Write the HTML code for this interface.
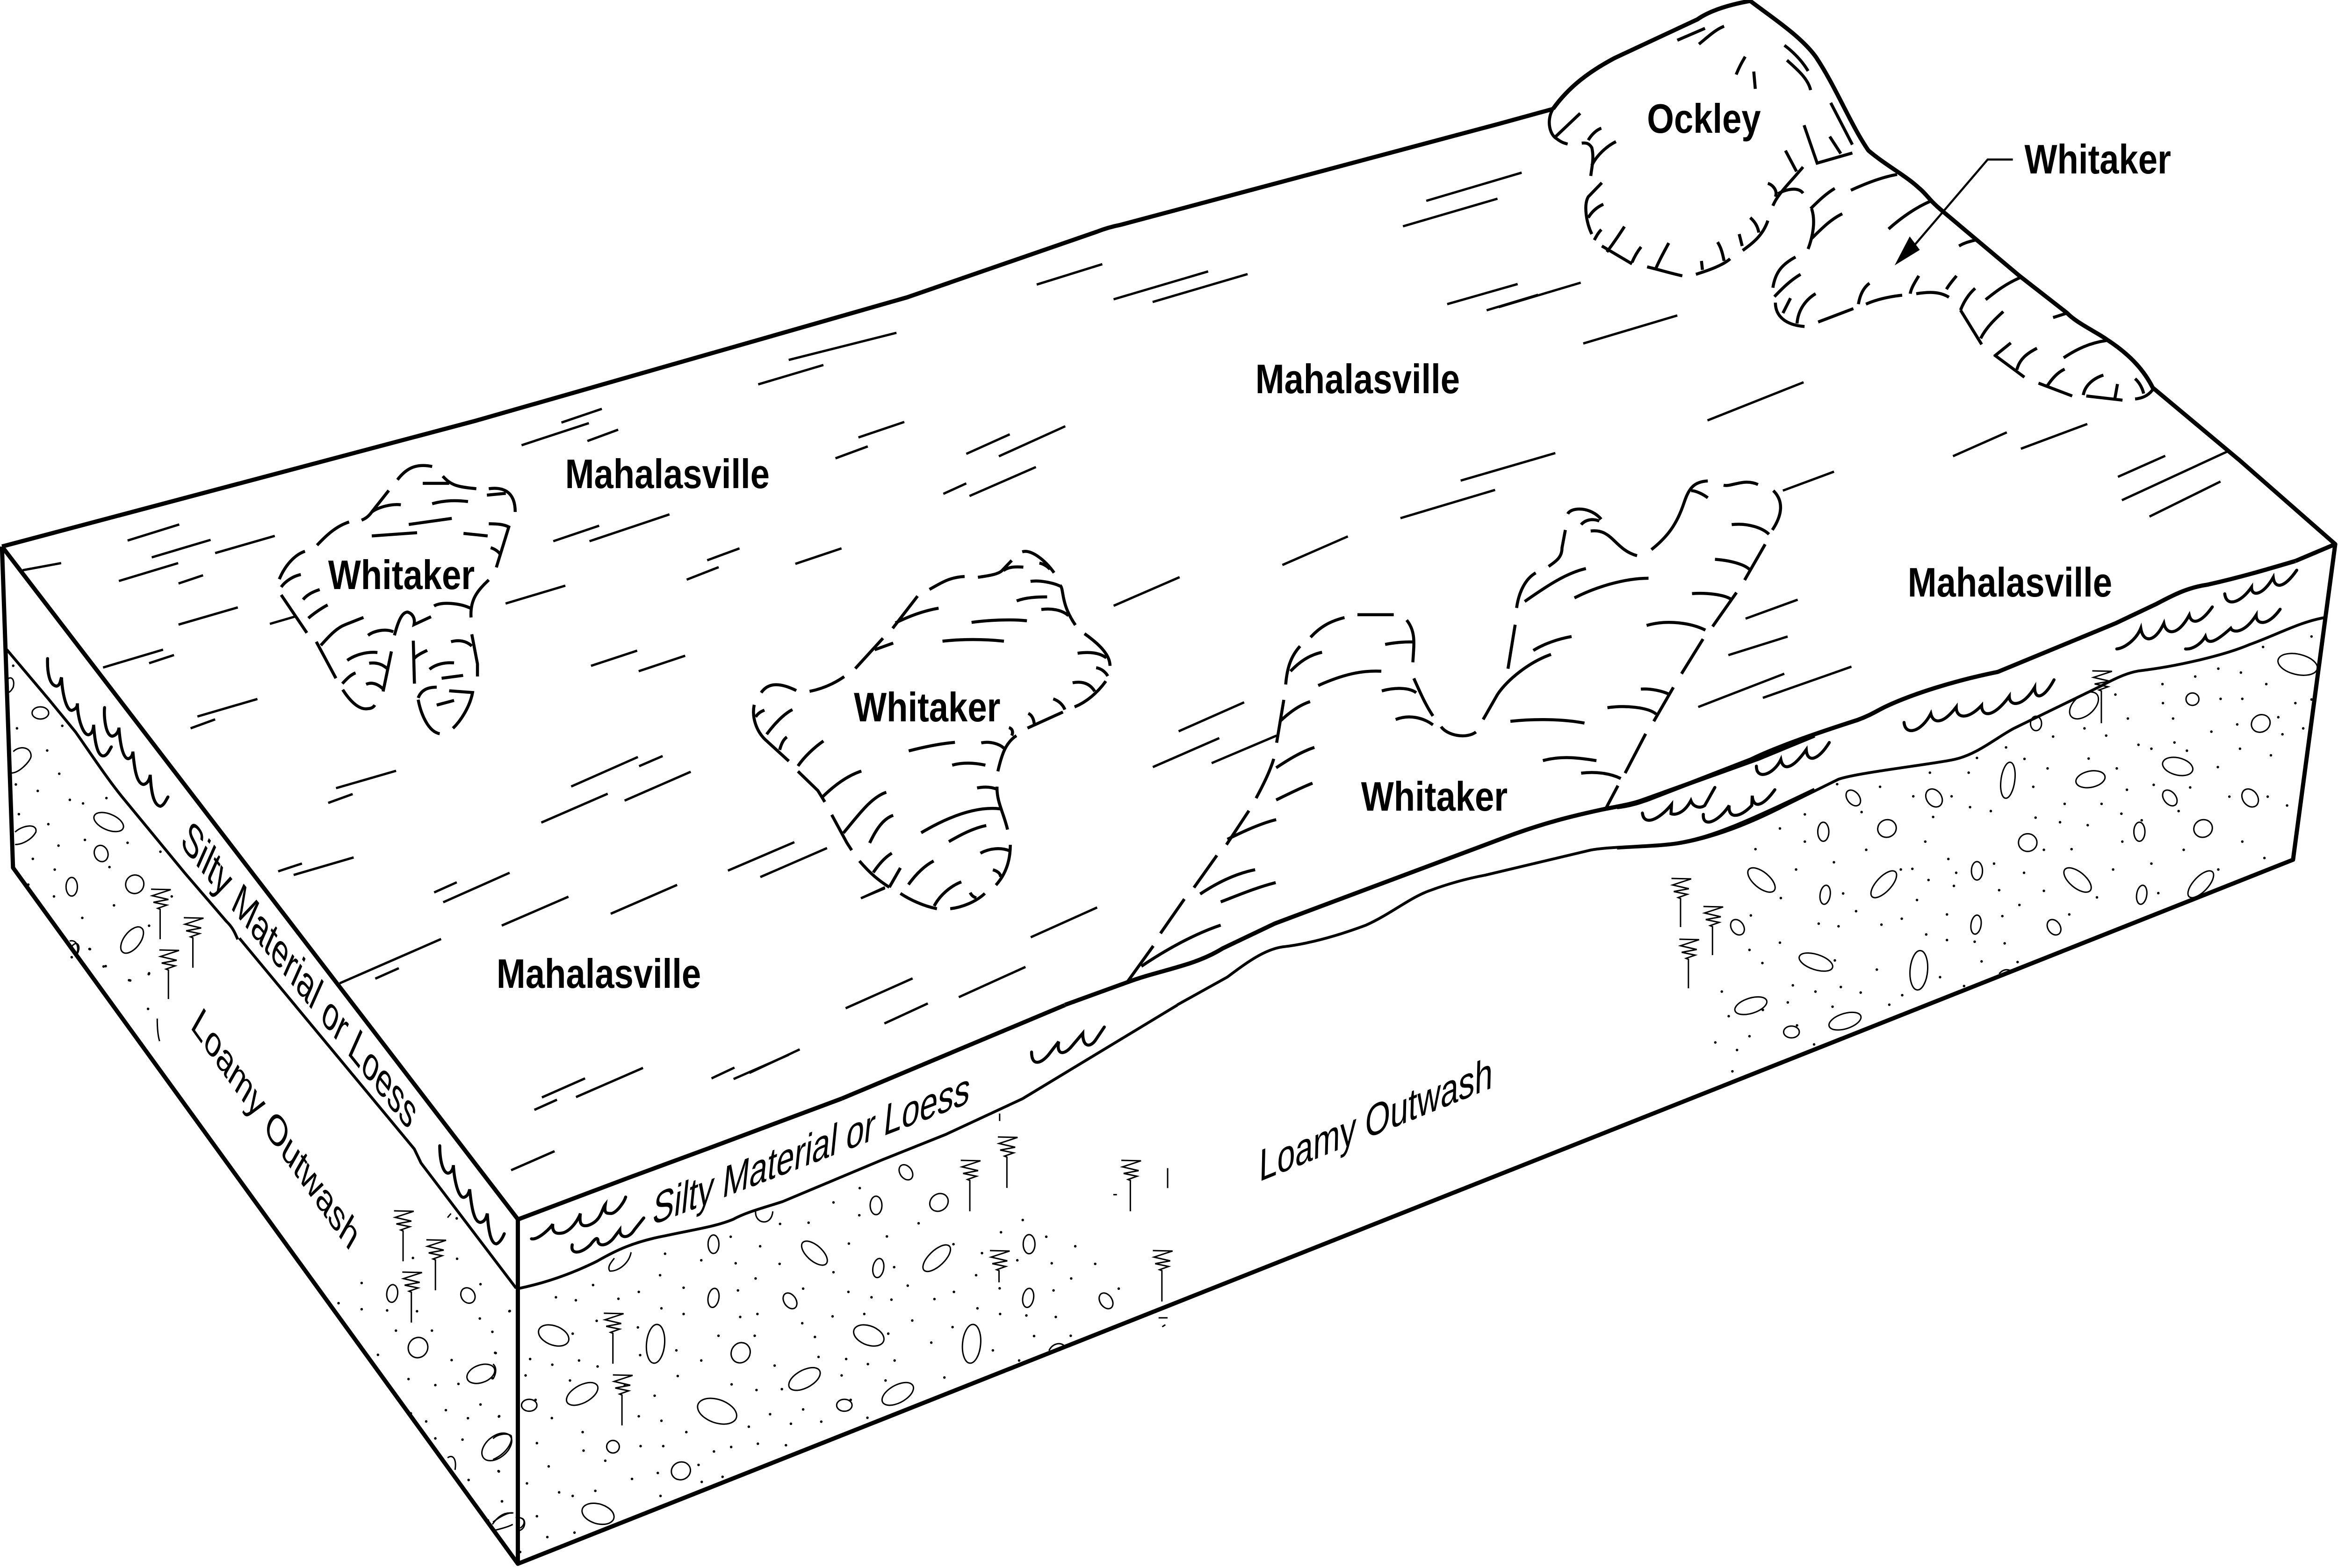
<!DOCTYPE html>
<html><head><meta charset="utf-8"><title>Block diagram</title>
<style>
html,body{margin:0;padding:0;background:#fff;width:100%;height:100%;overflow:hidden}
svg{display:block;width:100vw;height:100vh}
svg *{vector-effect:non-scaling-stroke}
.a{fill:none;stroke:#000;stroke-width:9;stroke-linejoin:round}
.b{fill:none;stroke:#000;stroke-width:6.5}
.f{fill:none;stroke:#000;stroke-width:5}
.l{fill:none;stroke:#000;stroke-width:6}
.w{fill:none;stroke:#000;stroke-width:6.5;stroke-linecap:round}
.r{fill:none;stroke:#000;stroke-width:3}
.t{fill:none;stroke:#000;stroke-width:3}
.d{fill:none;stroke:#000;stroke-width:5.5;stroke-linecap:round}
text{font-family:"Liberation Sans",Arial,sans-serif;font-size:88px;fill:#000}
.h{font-weight:bold}
</style></head><body>
<svg xmlns="http://www.w3.org/2000/svg" viewBox="0 0 5928 3354" preserveAspectRatio="none">
<rect width="5928" height="3354" fill="#fff"/>

<!-- Z5 coords: front face lower -->
<g transform="matrix(1.148,0,0,.638,1250,2350)">
<g class="r">
<ellipse cx="487" cy="488" rx="12" ry="31"/><ellipse cx="710" cy="518" rx="20" ry="45" transform="rotate(-30 710 518)"/><ellipse cx="846" cy="358" rx="13" ry="31"/><ellipse cx="985" cy="348" rx="20" ry="30" transform="rotate(10 985 348)"/><ellipse cx="912" cy="247" rx="14" ry="26" transform="rotate(-15 912 247)"/><ellipse cx="851" cy="568" rx="12" ry="32" transform="rotate(5 851 568)"/><ellipse cx="980" cy="535" rx="20" ry="50" transform="rotate(30 980 535)"/><ellipse cx="1184" cy="488" rx="13" ry="32"/><ellipse cx="487" cy="668" rx="12" ry="32" transform="rotate(5 487 668)"/><ellipse cx="656" cy="678" rx="14" ry="27" transform="rotate(-15 656 678)"/><ellipse cx="1182" cy="668" rx="12" ry="32" transform="rotate(5 1182 668)"/><ellipse cx="1354" cy="678" rx="14" ry="27" transform="rotate(-15 1354 678)"/><ellipse cx="134" cy="794" rx="28" ry="40" transform="rotate(-40 134 794)"/><ellipse cx="359" cy="822" rx="20" ry="65" transform="rotate(3 359 822)"/><ellipse cx="547" cy="852" rx="21" ry="34" transform="rotate(5 547 852)"/><ellipse cx="830" cy="794" rx="28" ry="40" transform="rotate(-40 830 794)"/><ellipse cx="1057" cy="822" rx="20" ry="65" transform="rotate(3 1057 822)"/><ellipse cx="688" cy="940" rx="25" ry="45" transform="rotate(40 688 940)"/><ellipse cx="197" cy="990" rx="25" ry="45" transform="rotate(40 197 990)"/><ellipse cx="894" cy="990" rx="25" ry="45" transform="rotate(40 894 990)"/><ellipse cx="80" cy="1028" rx="17" ry="20"/><ellipse cx="776" cy="1028" rx="17" ry="20"/><ellipse cx="495" cy="1048" rx="35" ry="50" transform="rotate(-45 495 1048)"/><ellipse cx="265" cy="1167" rx="14" ry="21"/><ellipse cx="415" cy="1248" rx="21" ry="30" transform="rotate(5 415 1248)"/><ellipse cx="232" cy="1392" rx="30" ry="40" transform="rotate(-45 232 1392)"/>
<path d="M580,378C578,420 615,430 618,378M305,515C300,555 275,580 258,578C252,565 260,550 268,535M0,1210C30,1190 45,1150 40,1130C30,1120 10,1125 0,1140M0,890C8,900 8,920 0,940M0,1420C20,1395 40,1385 45,1390M50,1405C70,1400 75,1425 60,1440M1228,845C1235,820 1255,815 1262,830M1490,233L1490,300M1119,50L1119,75M1370,322L1378,322M1470,735L1490,735M1478,765L1485,758"/>
</g>
<path class="d" d="M380,520h.01M525,463h.01M590,495h.01M460,542h.01M536,552h.01M633,554h.01M369,592h.01M580,603h.01M697,416h.01M634,420h.01M752,348h.01M810,300h.01M809,391h.01M940,418h.01M1017,488h.01M1080,518h.01M1158,542h.01M1234,552h.01M1330,554h.01M1122,448h.01M870,462h.01M786,486h.01M1170,407h.01M1222,463h.01M1286,495h.01M1067,592h.01M752,582h.01M886,565h.01M916,627h.01M1277,603h.01M1382,637h.01M1238,643h.01M1119,636h.01M1018,648h.01M975,672h.01M880,674h.01M836,666h.01M785,648h.01M685,637h.01M541,643h.01M421,634h.01M322,648h.01M277,671h.01M183,676h.01M139,666h.01M221,625h.01M37,712h.01M372,703h.01M421,722h.01M546,732h.01M584,722h.01M683,753h.01M750,730h.01M820,722h.01M926,744h.01M1015,766h.01M968,818h.01M873,788h.01M711,799h.01M578,795h.01M498,795h.01M320,767h.01M229,745h.01M176,788h.01M405,844h.01M460,878h.01M325,860h.01M231,898h.01M190,878h.01M131,892h.01M82,873h.01M6,853h.01M72,928h.01M170,945h.01M291,962h.01M408,930h.01M527,958h.01M582,977h.01M638,974h.01M622,895h.01M719,866h.01M780,873h.01M828,890h.01M887,878h.01M997,935h.01M867,945h.01M770,928h.01M1104,844h.01M1162,878h.01M1070,703h.01M1120,722h.01M1178,727h.01M1243,732h.01M1195,796h.01M1276,795h.01M357,996h.01M94,1010h.01M130,1071h.01M13,1066h.01M322,1065h.01M372,1080h.01M198,1118h.01M427,1118h.01M612,1058h.01M685,1042h.01M790,1010h.01M725,1083h.01M658,1090h.01M565,1100h.01M827,1070h.01M97,1155h.01M326,1165h.01M376,1165h.01M200,1180h.01M488,1183h.01M526,1168h.01M585,1157h.01M647,1162h.01M248,1214h.01M454,1228h.01M123,1233h.01M13,1250h.01M364,1255h.01M507,1268h.01M461,1285h.01M307,1275h.01M75,1290h.01M146,1320h.01M226,1315h.01M176,1332h.01M370,1332h.01M20,1350h.01M97,1400h.01M180,1455h.01M120,1470h.01M60,1520h.01"/>
<path class="l" d="M55,637C110,620 170,590 230,545C270,510 310,480 380,460C440,440 490,430 530,405C560,380 600,365 640,345L860,205L1000,120L1170,0"/>
<path class="w" d="M85,470C100,475 130,430 132,420C130,450 140,455 155,450C175,440 190,400 193,385C190,420 195,430 210,425C240,410 240,370 248,355C245,385 250,385 262,385C275,380 290,345 293,330"/>
<path class="w" d="M175,490C170,525 195,520 215,490C225,470 232,460 232,480C235,495 250,495 265,470L280,440C280,470 300,470 312,440L333,400"/>
<path class="a" d="M55,405L300,265L470,170L770,0"/>
</g>

<!-- Z6 coords: right face -->
<g transform="matrix(1.17,0,0,.702,4100,1200)">
<g class="r">
<ellipse cx="1475" cy="315" rx="45" ry="30" transform="rotate(25 1475 315)"/><ellipse cx="1247" cy="421" rx="14" ry="19"/><ellipse cx="1395" cy="495" rx="20" ry="27" transform="rotate(10 1395 495)"/><ellipse cx="1012" cy="440" rx="25" ry="45" transform="rotate(30 1012 440)"/><ellipse cx="908" cy="495" rx="12" ry="22"/><ellipse cx="1215" cy="626" rx="35" ry="25" transform="rotate(30 1215 626)"/><ellipse cx="1026" cy="665" rx="33" ry="24" transform="rotate(-25 1026 665)"/><ellipse cx="847" cy="668" rx="15" ry="55" transform="rotate(5 847 668)"/><ellipse cx="512" cy="722" rx="14" ry="25" transform="rotate(-20 512 722)"/><ellipse cx="687" cy="722" rx="17" ry="28" transform="rotate(-15 687 722)"/><ellipse cx="1198" cy="722" rx="14" ry="25" transform="rotate(-20 1198 722)"/><ellipse cx="1372" cy="722" rx="17" ry="28" transform="rotate(-15 1372 722)"/><ellipse cx="447" cy="825" rx="12" ry="29"/><ellipse cx="585" cy="815" rx="20" ry="27" transform="rotate(5 585 815)"/><ellipse cx="890" cy="858" rx="20" ry="27"/><ellipse cx="1132" cy="825" rx="12" ry="29"/><ellipse cx="1270" cy="815" rx="20" ry="27" transform="rotate(5 1270 815)"/><ellipse cx="313" cy="972" rx="20" ry="43" transform="rotate(-35 313 972)"/><ellipse cx="998" cy="972" rx="20" ry="43" transform="rotate(-35 998 972)"/><ellipse cx="578" cy="985" rx="18" ry="46" transform="rotate(30 578 985)"/><ellipse cx="1265" cy="985" rx="18" ry="46" transform="rotate(30 1265 985)"/><ellipse cx="780" cy="944" rx="12" ry="28"/><ellipse cx="451" cy="1017" rx="11" ry="29" transform="rotate(5 451 1017)"/><ellipse cx="1137" cy="1017" rx="11" ry="29" transform="rotate(5 1137 1017)"/><ellipse cx="778" cy="1108" rx="11" ry="29" transform="rotate(5 778 1108)"/><ellipse cx="261" cy="1116" rx="14" ry="24" transform="rotate(-15 261 1116)"/><ellipse cx="947" cy="1116" rx="14" ry="24" transform="rotate(-15 947 1116)"/><ellipse cx="431" cy="1222" rx="40" ry="22" transform="rotate(30 431 1222)"/><ellipse cx="654" cy="1247" rx="19" ry="60" transform="rotate(3 654 1247)"/><ellipse cx="290" cy="1355" rx="38" ry="22" transform="rotate(-30 290 1355)"/><ellipse cx="494" cy="1402" rx="38" ry="22" transform="rotate(-30 494 1402)"/><ellipse cx="378" cy="1435" rx="17" ry="18"/>
<path d="M828,1258C835,1245 845,1243 852,1248"/>
</g>
<path class="d" d="M1505,230h.01M1400,262h.01M1303,328h.01M1253,352h.01M1352,340h.01M1182,375h.01M1407,375h.01M1080,407h.01M1308,420h.01M1355,420h.01M1183,433h.01M1470,433h.01M1505,422h.01M1107,480h.01M1205,480h.01M1433,476h.01M1344,498h.01M1013,510h.01M1288,520h.01M1442,528h.01M1487,510h.01M945,535h.01M1060,532h.01M1130,560h.01M1208,553h.01M1158,572h.01M1235,578h.01M843,568h.01M1350,572h.01M1417,592h.01M1022,602h.01M883,603h.01M780,600h.01M1302,628h.01M1083,632h.01M933,632h.01M678,645h.01M762,645h.01M1163,682h.01M1105,697h.01M902,688h.01M570,688h.01M477,680h.01M1242,690h.01M1327,718h.01M1410,718h.01M725,717h.01M642,717h.01M765,750h.01M970,740h.01M1050,740h.01M1452,745h.01M1093,770h.01M1217,762h.01M1137,790h.01M407,772h.01M530,765h.01M810,762h.01M685,780h.01M907,782h.01M960,796h.01M1020,805h.01M353,815h.01M668,855h.01M407,855h.01M1095,855h.01M1228,880h.01M1355,855h.01M300,878h.01M540,880h.01M925,880h.01M718,908h.01M985,878h.01M470,918h.01M1158,922h.01M640,938h.01M817,922h.01M388,940h.01M1075,940h.01M1303,940h.01M1403,905h.01M735,950h.01M675,972h.01M882,950h.01M615,940h.01M730,990h.01M828,1003h.01M1040,1025h.01M925,1005h.01M490,1013h.01M355,1027h.01M1173,1012h.01M518,1067h.01M872,1048h.01M650,1033h.01M617,1090h.01M715,1077h.01M290,1080h.01M835,1082h.01M980,1077h.01M437,1105h.01M480,1113h.01M573,1108h.01M670,1138h.01M715,1155h.01M353,1163h.01M775,1160h.01M840,1165h.01M287,1185h.01M315,1225h.01M472,1217h.01M700,1268h.01M563,1245h.01M790,1220h.01M868,1222h.01M381,1293h.01M752,1295h.01M227,1312h.01M430,1312h.01M485,1298h.01M528,1315h.01M618,1323h.01M370,1345h.01M316,1368h.01M242,1387h.01M467,1358h.01M590,1352h.01M287,1448h.01M213,1467h.01M390,1415h.01M427,1473h.01M260,1490h.01M250,1555h.01"/>
<path class="l" d="M0,875C50,870 100,870 140,860C220,840 300,790 350,755L480,665C520,645 680,620 730,605C780,590 820,540 860,510L1050,380C1090,350 1110,340 1130,335C1220,320 1320,285 1370,255C1430,225 1480,185 1535,172"/>
<path class="a" d="M0,750C30,745 50,735 70,725L290,605C340,570 420,530 520,485C550,470 565,455 580,445C640,405 730,365 825,338L1080,190L1170,130C1210,100 1240,80 1280,72C1350,50 1410,25 1470,0"/>
<g class="w">
<path d="M55,768C58,808 90,790 118,742L117,770C125,775 145,770 160,730C165,750 180,755 190,745L212,690"/>
<path d="M187,772C185,815 220,795 243,745C240,785 265,785 292,745L293,715C295,755 315,750 342,697"/>
<path d="M302,625C302,670 340,650 355,605C360,640 380,635 410,575C412,615 435,610 460,553"/>
<path d="M622,492C625,535 660,520 680,465C685,495 705,500 735,445C735,480 760,485 790,440C790,475 815,480 850,412C850,445 880,445 905,385C905,425 925,420 947,362"/>
<path d="M1083,268C1100,265 1125,240 1135,205C1140,250 1165,250 1185,190C1190,225 1215,230 1240,165C1245,195 1265,190 1290,140"/>
<path d="M1232,268C1245,270 1265,255 1275,230C1280,255 1295,250 1330,205C1335,220 1360,220 1385,165C1385,195 1410,200 1437,147"/>
<path d="M1317,100C1320,140 1350,130 1375,80C1375,110 1400,105 1422,50C1425,85 1445,85 1473,28"/>
</g>
<path class="f" d="M316,417L508,322"/>
</g>

<!-- Z10 wave and layer segment -->
<g transform="matrix(.7015,0,0,.4464,1900,1900)">
<path class="w" d="M1020,785C1020,850 1050,845 1080,800L1118,735C1110,790 1130,805 1160,765L1205,695C1205,760 1230,765 1250,730L1283,665"/>
<path class="f" d="M403,48L490,0M0,885L182,772M348,575L590,432M488,648L645,552M757,522L998,377M1017,235L1257,92"/>
</g>

<!-- Z3 coords -->
<g transform="matrix(1.212,0,0,.765,2700,950)">
<path class="l" d="M235,1568L340,1490C380,1450 420,1410 460,1405C520,1395 580,1370 630,1345C680,1315 720,1270 760,1250C800,1230 840,1215 880,1205L1100,1135C1140,1125 1230,1125 1280,1115C1350,1100 1420,1060 1568,965"/>
<path class="a" d="M0,1568L130,1505C200,1470 270,1460 330,1410L440,1340L920,1100C1000,1060 1060,1040 1130,1020C1170,1010 1190,1005 1210,995L1450,880L1568,815"/>
<path class="b" d="M130,1505L185,1403M200,1368L250,1272M270,1240L318,1150M338,1120L385,1025M400,990C420,940 430,910 437,880M443,835L458,715M462,672C465,620 475,590 492,565M514,540C535,510 555,495 585,485M612,477L688,477M715,492C735,525 730,560 728,610M730,655C745,700 755,730 770,760M787,790C800,815 840,825 860,805M875,770L905,700C925,660 970,610 1017,588M927,628L942,505M945,458C950,410 965,375 985,360M1012,342C1030,325 1040,315 1040,290L1047,240M1052,195C1060,175 1100,175 1122,210M1080,225C1090,210 1105,208 1118,215M1100,243C1145,235 1150,295 1197,312M1227,295C1260,260 1280,225 1295,165C1305,125 1315,105 1345,103M1310,130C1320,130 1335,140 1345,150M1378,115C1395,120 1420,95 1450,113M1482,130C1505,160 1500,200 1480,240M1395,225C1430,220 1460,235 1473,252M1465,280L1422,380M1360,322C1390,325 1420,335 1432,350M1405,415L1355,510M1312,418C1340,415 1380,420 1395,435M1217,507C1260,490 1310,500 1340,520M1335,545L1290,642M1205,685C1225,683 1250,690 1265,700M1273,680L1232,775M1135,737C1170,730 1220,735 1237,755M1215,810L1172,920M1080,920C1110,915 1140,920 1163,935M1157,955L1132,1018M1000,885C1040,870 1080,878 1112,885M932,775C980,768 1040,768 1087,780M1066,430C1110,400 1170,375 1221,375M962,440C1010,395 1050,360 1090,348M980,577C1000,560 1030,545 1060,538M670,560C690,555 705,553 728,553M472,635C490,610 510,590 538,582M530,675C580,645 620,632 662,635M663,690C690,680 720,680 735,695M692,770C720,755 750,765 770,785M450,775C470,750 490,730 513,720M442,905C470,880 495,860 522,848M442,995C465,980 495,960 518,948M340,1105C370,1085 410,1060 442,1050M283,1258C320,1225 360,1200 398,1190M326,1280C365,1260 400,1240 441,1226M160,1460C210,1415 270,1370 326,1345"/>
<path class="f" d="M307,892L443,815M238,803L375,722M184,903L323,822M102,452L240,372M455,338L592,258M702,207L900,128M828,102L1026,25M1502,130L1609,77M1424,488L1533,435M1388,590L1512,538M1325,735L1505,642"/>
</g>

<!-- Z4 coords -->
<g transform="matrix(.702,0,0,.574,1800,1100)">
<path class="b" d="M185,665C205,635 240,620 312,657M360,660C410,650 450,630 485,605M525,575L625,462M595,505L662,480M660,425L750,305M670,405C720,380 770,360 826,350M793,280C830,260 860,235 920,232M968,235C1000,230 1040,225 1055,210L1090,172M1060,210C1080,195 1105,195 1132,197M1128,140C1160,130 1210,170 1243,218M1190,182C1205,185 1220,195 1228,205M1158,250C1190,245 1240,255 1265,268M1108,323C1140,310 1180,308 1218,308M1265,265C1280,280 1265,330 1320,413M1197,355C1230,350 1270,355 1295,378M945,403C1000,395 1090,390 1145,397M840,473C910,465 990,465 1062,473M1353,445C1400,480 1445,520 1445,565M1328,518C1370,512 1405,515 1432,535M1395,572C1415,575 1430,590 1437,603M1310,628C1350,620 1375,635 1390,660M1430,622C1400,665 1360,700 1317,718M1240,688C1260,695 1275,710 1282,728M1147,797L1275,737M1150,742C1165,750 1170,765 1172,785M1080,795C1095,800 1095,815 1090,825M1107,825C1070,850 1055,890 1040,958M980,852C1010,845 1045,855 1062,872M875,935C910,925 950,925 995,935M718,882C770,868 830,855 885,850M160,710C150,760 170,810 200,840L285,920M165,755C175,740 185,735 197,730M205,820C230,785 265,745 298,728M252,878C258,855 265,840 278,830M318,938C340,905 375,870 410,845M318,958L390,1030L415,1072M408,1052C450,1010 495,975 547,957M440,1120L495,1225L512,1252M482,1188C530,1130 580,1055 637,1036M577,1225C600,1175 625,1135 662,1122M763,1187C840,1140 950,1085 1050,1098M965,1020C990,1015 1015,1015 1037,1025M1037,1015C1035,1070 1060,1110 1075,1175M863,1220C905,1195 950,1170 998,1160M977,1263C1010,1245 1050,1240 1085,1255M1085,1232C1085,1290 1070,1340 1033,1382M1022,1325C1040,1330 1050,1340 1050,1352M540,1292C580,1340 610,1365 648,1390M590,1335C610,1305 630,1280 657,1263M688,1318L648,1390M717,1380C745,1340 775,1310 808,1292M688,1413C720,1435 770,1460 820,1470M810,1460C830,1420 870,1385 908,1370M868,1470C910,1465 960,1445 993,1413M940,1410C945,1420 950,1425 962,1430"/>
<path class="f" d="M548,1430L632,1390M65,1328L305,1222M182,1352L423,1244"/>
</g>

<!-- Z2 coords -->
<g transform="matrix(1.2755,0,0,.6378,3800,0)">
<path class="a" d="M108,365C140,290 180,240 230,195L395,65C420,35 460,15 500,3C540,55 600,120 630,190C670,290 700,420 735,505C770,555 810,590 835,630C850,650 855,670 880,705L1035,925L1130,1050C1150,1085 1190,1115 1210,1140C1260,1195 1285,1250 1300,1300L1470,1540"/>
<path class="b" d="M108,365C95,400 100,450 115,465C125,478 130,480 137,483M112,460L162,380M165,480C175,478 180,482 185,495C190,530 185,560 183,590M178,470C185,450 195,435 204,430M185,555C195,520 215,490 233,475M205,613L178,660C168,690 175,750 185,785M178,730C185,710 195,695 208,685M190,805C195,790 198,780 204,770M205,825L265,885M215,845C235,800 240,785 250,760M265,880C270,860 275,845 283,828M295,895C320,905 345,918 365,925M313,898C320,870 330,840 338,815M392,920C420,905 445,890 460,868M405,905L403,875M448,875C445,850 442,830 435,812M485,840C505,815 525,790 535,740M484,825L478,785M517,780C515,760 510,745 500,730M545,690C555,650 575,620 605,560M535,615C545,620 555,640 550,660M555,650C570,635 595,625 605,648M570,505L592,575M607,420L633,547L703,513M658,458L680,515M660,345L703,485M568,152C590,180 605,210 615,238M573,202C595,235 615,265 620,302M472,250C478,225 483,210 490,190M507,240L510,298M398,148C415,125 430,100 448,88M355,135L410,95M700,638C730,615 760,595 792,585M620,700C635,675 650,650 668,632M622,700C630,740 625,790 615,835M622,800C640,770 660,735 683,717M775,768C800,730 830,695 858,675M915,825C925,815 935,810 948,805M590,862C565,885 550,910 545,965M548,995C565,965 580,940 600,920M550,1015C550,1060 570,1090 608,1095M565,1050L580,1000M593,1085C595,1040 610,1005 630,985M635,1080L705,1035M730,1020C750,1005 775,995 802,990M715,1020C718,990 725,965 737,950M830,985C850,980 875,975 895,997M818,985C820,965 828,945 835,925M890,970C897,950 903,940 910,925M918,1040C925,1010 935,985 947,967M918,1040L960,1155M958,1135C970,1095 990,1065 1003,1045M968,1005C990,975 1010,950 1038,930M1102,1065L1130,1050M985,1190L1045,1265M985,1195L1018,1150M1030,1240C1035,1205 1050,1185 1070,1168M1123,1200C1150,1170 1175,1150 1208,1142M1073,1285L1140,1328M1090,1295C1100,1270 1110,1250 1125,1238M1162,1325C1165,1295 1180,1270 1202,1258M1168,1328L1240,1342M1225,1335L1230,1288M1265,1338C1285,1335 1295,1320 1303,1300M1265,1270C1275,1285 1280,1305 1282,1320"/>
<path class="f" d="M0,1030L163,948M168,1152L355,1058M415,1410L606,1282M903,1530L1010,1450M1038,1505L1170,1422"/>
<path fill="none" stroke="#000" stroke-width="4.5" d="M1022,535L972,535L820,835"/>
<polygon points="817,793 837,838 787,890" fill="#000"/>
</g>

<!-- Z7 flecks -->
<g transform="matrix(1.0204,0,0,.574,2300,200)">
<path class="f" d="M322,712L485,636M513,767L748,663M610,777L846,673M1290,400L1527,295M1232,495L1467,392M1342,785L1517,710M1440,808L1568,750M147,1343L255,1270M228,1352L393,1240M90,1492L147,1453M155,1500L320,1392"/>
</g>
<!-- Z8 flecks -->
<g transform="matrix(.7653,0,0,.6378,1200,650)">
<path class="f" d="M292,398L426,352M160,474L383,400M378,460L480,422M1045,188L1402,97M944,270L1160,205M1276,448L1428,396M1200,518L1307,478M265,796L417,744M385,796L650,706M775,860L882,820M707,925L813,883M1067,872L1220,820M107,1005L305,945M390,1214L543,1163M548,1232L702,1180"/>
</g>
<!-- Z9 flecks -->
<g transform="matrix(.7653,0,0,.7015,800,1500)">
<path class="f" d="M68,265L267,212M42,310L123,283M847,260L1068,170M1072,198L1150,167M748,370L968,282M1024,303L1243,215M393,583L468,552M423,613L643,523M617,684L838,596M978,648L1198,560M80,860L416,725M198,846L276,814M750,1208L893,1150M863,1207L1085,1118M725,1246L800,1215M1312,1150L1388,1117M1385,1152L1568,1078M648,1430L792,1372"/>
</g>

<!-- Z1 coords -->
<g transform="matrix(.957,0,0,.765,0,900)">
<g class="r">
<ellipse cx="107" cy="817" rx="22" ry="17"/><ellipse cx="288" cy="1122" rx="42" ry="22" transform="rotate(25 288 1122)"/><ellipse cx="268" cy="1210" rx="18" ry="23" transform="rotate(-15 268 1210)"/><ellipse cx="190" cy="1303" rx="15" ry="26"/><ellipse cx="357" cy="1296" rx="24" ry="26" transform="rotate(10 357 1296)"/><ellipse cx="350" cy="1452" rx="22" ry="42" transform="rotate(35 350 1452)"/>
<path d="M35,925C55,905 85,915 82,940C78,955 50,985 30,985M18,725C30,710 40,725 35,745C30,755 25,760 20,760M40,1150C60,1130 100,1125 95,1150C85,1170 60,1185 40,1185M190,1470C205,1450 215,1470 205,1490"/>
</g>
<path class="d" d="M35,685h.01M45,860h.01M165,853h.01M125,922h.01M157,987h.01M42,1017h.01M100,1035h.01M185,1060h.01M220,1070h.01M282,1055h.01M50,1100h.01M128,1128h.01M225,1172h.01M338,1180h.01M155,1188h.01M425,1205h.01M87,1225h.01M145,1255h.01M290,1248h.01M75,1297h.01M143,1330h.01M302,1355h.01M455,1330h.01M395,1412h.01M218,1390h.01M237,1477h.01M190,1500h.01M280,1525h.01M345,1565h.01M395,1545h.01"/>
<path class="l" d="M18,640L130,780L200,870C240,930 290,1010 330,1060L490,1265L600,1400C620,1420 625,1440 630,1450"/>
<path class="w" d="M126,665C125,700 130,740 150,742C160,740 160,725 163,718C165,760 175,810 190,810C205,805 205,795 205,790C205,830 220,880 235,878C245,875 248,860 248,850C250,880 255,940 275,937C285,935 290,920 295,912"/>
<path class="w" d="M277,802C275,830 280,880 297,882C310,880 315,865 315,858C318,900 325,945 340,945C350,942 352,930 352,925C355,960 360,1015 380,1017C392,1015 397,1000 398,990C400,1030 405,1075 425,1078C435,1075 440,1060 445,1052"/>
<path class="b" d="M1053,165C1075,135 1100,118 1145,128M1120,175L1190,175M1173,155C1195,180 1210,185 1262,190M1295,190C1330,185 1365,195 1365,255M1290,208L1340,203M1145,232C1180,222 1210,222 1240,226M1083,290L1197,273M985,322L1105,313M1228,315L1292,322M1295,288C1320,288 1335,290 1348,297L1315,410M1300,355C1310,358 1320,365 1325,373M1030,195L985,255C975,270 965,275 958,278M985,255C1005,240 1040,232 1062,235M925,283C890,295 865,320 840,348M808,365C780,375 755,405 740,443M745,465C755,450 775,435 797,430M803,500C815,485 830,478 847,472M817,552C830,540 850,525 868,515M745,487L813,593M850,628C870,605 890,580 915,570L963,550M838,618L890,720M975,600C990,588 1020,580 1042,590M1045,600C1055,560 1065,535 1080,535C1095,540 1100,555 1097,570L1142,548M1150,518C1170,505 1220,510 1248,525M1248,550C1245,500 1265,475 1295,445M920,670C940,655 970,645 1000,648M978,678C1000,675 1015,682 1028,695M1037,645L1015,757M907,735C920,720 930,710 942,705M970,737C985,730 1000,735 1015,750M908,752C925,780 950,810 975,805C985,805 990,800 993,795M1095,615L1098,735M1097,665C1105,655 1120,648 1132,642M1195,618C1215,612 1235,615 1250,630M1250,597L1265,680L1265,715M1138,695C1155,680 1180,675 1203,677M1170,720L1227,712M1108,775C1115,755 1130,745 1157,745M1108,780C1115,820 1135,870 1165,875M1190,755L1252,760C1245,800 1220,840 1200,860M1157,795L1203,782"/>
<path class="f" d="M338,335L475,290M402,382L558,333M570,370L728,322M315,448L472,398M473,455L538,432M60,418L162,398M473,570L630,522M715,568L780,548M273,690L432,640M395,678L461,655M523,827L682,778M505,860L570,835M737,1260L800,1238M778,1270L937,1221"/>
</g>

<!-- Z11 coords -->
<g transform="matrix(.861,0,0,.8635,0,2000)">
<g class="r">
<ellipse cx="1155" cy="888" rx="16" ry="22" transform="rotate(10 1155 888)"/><ellipse cx="1378" cy="893" rx="22" ry="18" transform="rotate(30 1378 893)"/><ellipse cx="1231" cy="1022" rx="29" ry="25" transform="rotate(-10 1231 1022)"/><ellipse cx="1416" cy="1087" rx="42" ry="22" transform="rotate(-15 1416 1087)"/><ellipse cx="1463" cy="1268" rx="48" ry="28" transform="rotate(-30 1463 1268)"/>
<path d="M1318,1295C1335,1285 1345,1300 1340,1325M1450,1460C1470,1435 1490,1430 1508,1432M1455,1475C1480,1470 1500,1465 1510,1460M1535,1445C1548,1445 1550,1470 1530,1475M205,15C225,10 235,30 225,50M463,207C463,230 465,250 470,263M1318,700L1328,690"/>
</g>
<path class="d" d="M265,35h.01M305,78h.01M380,112h.01M438,97h.01M436,183h.01M1345,702h.01M1216,800h.01M1346,802h.01M1065,862h.01M1415,865h.01M997,912h.01M1065,927h.01M1140,930h.01M1228,932h.01M1413,950h.01M1500,932h.01M1166,980h.01M1272,980h.01M1450,983h.01M1113,1040h.01M1330,1053h.01M1458,1035h.01M1203,1100h.01M1282,1115h.01M1350,1112h.01M1450,1098h.01M1313,1177h.01M1415,1163h.01M1378,1197h.01M1470,1192h.01M1210,1185h.01M1255,1205h.01M1282,1247h.01M1362,1250h.01M1380,1350h.01M1468,1328h.01M1478,1403h.01M1437,1450h.01"/>
<path class="l" d="M705,8L1220,530L1240,565L1520,875"/>
<path class="w" d="M1295,522C1295,560 1305,590 1320,590C1332,588 1335,575 1335,570C1338,610 1350,650 1365,650C1378,648 1382,635 1383,630C1388,670 1395,712 1415,712C1428,710 1432,700 1435,690C1438,730 1445,765 1462,765C1472,762 1480,750 1485,740"/>
</g>

<!-- Main outline in root coordinates -->
<path class="a" d="M5,1169L1206,900L2300,636L2780,496Q2810,486 2841,481L3800,265L3938,233"/>
<path class="a" d="M5,1169L1313,2608M5,1169L33,1856L1313,3345L1313,2608M1313,3345L5814,1839L5921,1164L5820,1200"/>
<path class="a" d="M5675,982L5921,1164"/>
<path class="a" d="M2134,2350L2700,2150"/>
<path class="l" d="M2593,2350L2985,2150"/>
<path class="f" d="M5380,1070L5647,966M5370,1020L5490,975M5450,1105L5630,1030"/>

<!-- Root/tree symbols -->
<g class="t">
<path d="M1531,2809l50,1l-47,13l41,8l-38,6l34,6l-23,7l6,2v65"/>
<path d="M1554,2941l50,1l-47,13l41,8l-38,6l34,6l-23,7l6,2v65"/>
<path d="M2436,2482l50,1l-47,13l41,8l-38,6l34,6l-23,7l6,2v66"/>
<path d="M2530,2432l50,1l-47,13l41,8l-38,6l34,6l-23,7l6,2v66"/>
<path d="M2843,2482l50,1l-47,13l41,8l-38,6l34,6l-23,7l6,2v66"/>
<path d="M2510,2675l50,1l-47,13l41,8l-38,6l34,6l-23,7l6,2v25"/>
<path d="M2923,2675l50,1l-47,13l41,8l-38,6l34,6l-23,7l6,2v66"/>
<path d="M4238,1879l50,1l-47,13l41,8l-38,6l34,6l-23,7l6,2v61"/>
<path d="M4319,1939l50,1l-47,13l41,8l-38,6l34,6l-23,7l6,2v61"/>
<path d="M4258,2009l50,1l-47,13l41,8l-38,6l34,6l-23,7l6,2v62"/>
<path d="M5305,1435l50,1l-47,13l41,8l-38,6l34,6l-23,7l6,2v69"/>
<path d="M383,1902l50,1l-47,13l41,8l-38,6l34,6l-23,7l6,2v64"/>
<path d="M466,1963l50,1l-47,13l41,8l-38,6l34,6l-23,7l6,2v64"/>
<path d="M404,2032l50,1l-47,13l41,8l-38,6l34,6l-23,7l6,2v62"/>
<path d="M999,2590l50,1l-47,13l41,8l-38,6l34,6l-23,7l6,2v65"/>
<path d="M1081,2652l50,1l-47,13l41,8l-38,6l34,6l-23,7l6,2v65"/>
<path d="M1020,2721l50,1l-47,13l41,8l-38,6l34,6l-23,7l6,2v65"/>
</g>

<!-- Labels -->
<text class="h" x="832" y="1260">Whitaker</text>
<text class="h" x="2165" y="1543">Whitaker</text>
<text class="h" x="3451" y="1734">Whitaker</text>
<text class="h" x="5133" y="371">Whitaker</text>
<text class="h" x="4176" y="284">Ockley</text>
<text class="h" x="3183" y="841">Mahalasville</text>
<text class="h" x="1433" y="1044">Mahalasville</text>
<text class="h" x="1259" y="2113">Mahalasville</text>
<text class="h" x="4837" y="1276">Mahalasville</text>
<text transform="matrix(.672,.708,-.49,.925,455,1806)">Silty Material or Loess</text>
<text transform="matrix(.639,.756,-.515,.764,481,2197)">Loamy Outwash</text>
<text transform="matrix(.929,-.302,-.133,1.107,1652,2621)">Silty Material or Loess</text>
<text transform="matrix(.931,-.317,-.03,1.1,3192,2528)">Loamy Outwash</text>
</svg>
</body></html>
